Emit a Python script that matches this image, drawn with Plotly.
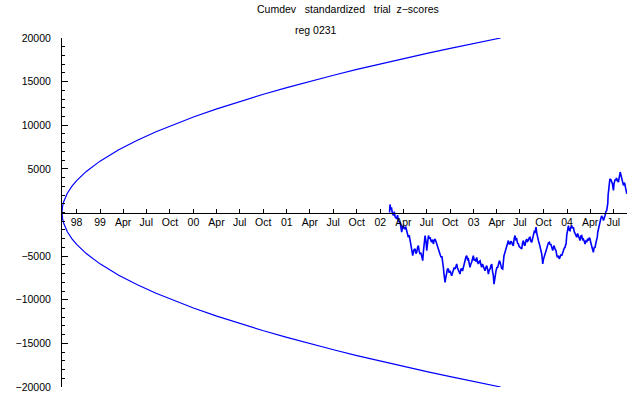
import plotly.graph_objects as go

# Envelope, decimal years
env_years = [1998.593, 1998.595, 1998.600, 1998.610, 1998.625, 1998.650, 1998.700, 1998.750,
             1998.850, 1999.000, 1999.200, 1999.400, 1999.600, 1999.800, 2000.000, 2000.250,
             2000.500, 2000.750, 2001.000, 2001.250, 2001.500, 2001.750, 2002.000, 2002.250,
             2002.500, 2002.750, 2003.000, 2003.290]
env_upper = [0, 413, 772, 1203, 1651, 2203, 3018, 3657, 4678, 5887, 7190, 8290, 9261, 10139,
             10946, 11880, 12744, 13554, 14318, 15042, 15734, 16397, 17034, 17648, 18241,
             18815, 19373, 20000]
env_lower = [-v for v in env_upper]

# Cumulative deviation
cum_years = [2002.100, 2002.105, 2002.112, 2002.120, 2002.130, 2002.141, 2002.150, 2002.160, 2002.176, 2002.185,
             2002.195, 2002.212, 2002.222, 2002.230, 2002.240, 2002.248, 2002.260, 2002.272, 2002.283, 2002.292,
             2002.301, 2002.310, 2002.319, 2002.328, 2002.337, 2002.348, 2002.360, 2002.373, 2002.382, 2002.391,
             2002.400, 2002.408, 2002.417, 2002.426, 2002.435, 2002.444, 2002.455, 2002.462, 2002.469, 2002.475,
             2002.480, 2002.490, 2002.498, 2002.507, 2002.516, 2002.525, 2002.533, 2002.542, 2002.551, 2002.560,
             2002.569, 2002.578, 2002.587, 2002.596, 2002.605, 2002.614, 2002.623, 2002.632, 2002.640, 2002.651,
             2002.660, 2002.669, 2002.676, 2002.683, 2002.690, 2002.694, 2002.703, 2002.712, 2002.720, 2002.729,
             2002.738, 2002.747, 2002.756, 2002.765, 2002.774, 2002.783, 2002.792, 2002.801, 2002.810, 2002.819,
             2002.828, 2002.837, 2002.846, 2002.854, 2002.863, 2002.872, 2002.881, 2002.890, 2002.899, 2002.908,
             2002.917, 2002.926, 2002.935, 2002.944, 2002.953, 2002.961, 2002.970, 2002.979, 2002.988, 2002.997,
             2003.006, 2003.015, 2003.024, 2003.033, 2003.042, 2003.051, 2003.060, 2003.069, 2003.078, 2003.086,
             2003.095, 2003.104, 2003.113, 2003.122, 2003.131, 2003.140, 2003.149, 2003.158, 2003.167, 2003.176,
             2003.185, 2003.194, 2003.203, 2003.211, 2003.218, 2003.229, 2003.240, 2003.249, 2003.258, 2003.267,
             2003.276, 2003.283, 2003.290, 2003.300, 2003.311, 2003.318, 2003.325, 2003.336, 2003.345, 2003.354,
             2003.363, 2003.372, 2003.381, 2003.390, 2003.399, 2003.408, 2003.417, 2003.425, 2003.434, 2003.443,
             2003.452, 2003.461, 2003.470, 2003.479, 2003.488, 2003.497, 2003.506, 2003.515, 2003.524, 2003.533,
             2003.542, 2003.550, 2003.559, 2003.568, 2003.577, 2003.586, 2003.595, 2003.604, 2003.613, 2003.622,
             2003.631, 2003.640, 2003.649, 2003.657, 2003.663, 2003.668, 2003.675, 2003.683, 2003.693, 2003.704,
             2003.711, 2003.719, 2003.724, 2003.729, 2003.735, 2003.740, 2003.747, 2003.754, 2003.765, 2003.776,
             2003.783, 2003.790, 2003.800, 2003.811, 2003.819, 2003.826, 2003.836, 2003.847, 2003.854, 2003.861,
             2003.872, 2003.882, 2003.890, 2003.897, 2003.907, 2003.916, 2003.925, 2003.934, 2003.943, 2003.952,
             2003.961, 2003.970, 2003.979, 2003.985, 2003.990, 2003.997, 2004.004, 2004.010, 2004.015, 2004.023,
             2004.032, 2004.041, 2004.050, 2004.059, 2004.068, 2004.077, 2004.086, 2004.095, 2004.104, 2004.113,
             2004.122, 2004.131, 2004.139, 2004.148, 2004.157, 2004.166, 2004.175, 2004.184, 2004.193, 2004.202,
             2004.211, 2004.220, 2004.229, 2004.238, 2004.246, 2004.255, 2004.264, 2004.273, 2004.282, 2004.291,
             2004.300, 2004.309, 2004.318, 2004.324, 2004.329, 2004.338, 2004.347, 2004.354, 2004.361, 2004.370,
             2004.379, 2004.385, 2004.390, 2004.399, 2004.407, 2004.416, 2004.425, 2004.431, 2004.436, 2004.440,
             2004.443, 2004.448, 2004.454, 2004.458, 2004.461, 2004.466, 2004.472, 2004.479, 2004.486, 2004.491,
             2004.497, 2004.503, 2004.508, 2004.515, 2004.522, 2004.528, 2004.533, 2004.541, 2004.551, 2004.556,
             2004.562, 2004.566, 2004.569, 2004.575, 2004.580, 2004.587, 2004.594, 2004.600, 2004.604, 2004.612,
             2004.619, 2004.625, 2004.630, 2004.635, 2004.640]
cum_values = [0, 920, 300, 600, -100, -345, 100, -500, -728, -300,
              -1000, -1112, -1700, -2262, -1500, -1687, -1900, -1600, -2070, -2500,
              -2837, -2600, -3220, -3600, -4370, -4945, -4300, -4178, -4700, -4562,
              -4000, -3795, -4400, -4753, -4600, -5137, -5520, -4500, -3987, -3400,
              -2645, -3300, -4370, -3500, -2645, -3000, -2837, -3200, -3412, -3100,
              -3603, -3200, -3028, -3300, -3603, -3900, -3987, -4500, -4753, -5137,
              -5000, -5520, -6300, -7053, -7800, -8012, -7400, -7053, -6478, -6478,
              -6900, -6670, -7000, -7245, -6900, -6670, -6300, -6478, -6000, -5903,
              -6400, -6670, -7000, -7053, -6500, -6478, -6700, -6287, -5700, -5328,
              -5100, -4945, -5400, -5328, -5900, -6287, -5900, -5712, -5300, -4945,
              -5500, -5328, -5600, -5137, -5700, -5903, -5600, -5520, -6000, -6287,
              -5900, -6095, -6400, -6670, -6300, -6095, -6500, -7053, -6600, -6478,
              -6100, -5903, -6800, -7245, -8203, -7100, -6670, -6300, -6287, -5900,
              -5520, -5700, -6095, -6400, -6478, -5600, -4945, -4562, -4200, -3987,
              -3500, -3220, -3600, -3603, -3300, -3412, -3700, -3795, -3000, -2645,
              -3100, -3028, -3500, -3603, -3900, -3987, -4178, -4178, -3500, -3220,
              -3700, -3795, -3300, -3028, -3300, -3220, -2900, -2837, -3300, -3412,
              -3000, -2453, -2200, -2262, -1700, -1687, -2300, -3028, -3200, -3603,
              -3900, -4178, -4600, -4753, -5300, -5903, -5400, -5137, -4600, -4370,
              -4000, -3795, -3500, -3412, -3700, -3603, -4100, -4370, -4000, -3795,
              -4200, -4370, -4900, -5137, -4945, -5300, -5137, -4800, -4945, -4500,
              -4370, -4100, -3987, -3700, -3603, -2600, -2262, -1700, -1495, -2000,
              -2070, -1700, -1495, -1800, -1687, -2200, -2453, -2600, -2837, -2400,
              -2645, -3000, -3220, -2700, -2645, -3100, -3028, -3300, -3603, -3200,
              -3412, -3000, -3220, -2900, -3028, -3500, -3795, -4200, -4562, -4000,
              -3987, -3500, -3220, -2800, -2262, -1800, -1112, -800, -728, -400,
              -537, -700, -920, -400, -345, 100, 230, 700, 997, 2000,
              2530, 3000, 3297, 3800, 3872, 3600, 3680, 3500, 3297, 2900,
              2530, 3300, 3488, 3800, 3680, 3900, 3872, 3600, 3488, 3900,
              4063, 4400, 4638, 4400, 4255, 3900, 3680, 3300, 3105, 3400,
              3297, 2900, 2722, 2400, 2147]

# Axis ticks
x_tick_vals = [1998.748, 1999.0, 1999.247, 1999.496, 1999.748,
               2000.0, 2000.247, 2000.496, 2000.748,
               2001.0, 2001.247, 2001.496, 2001.748,
               2002.0, 2002.247, 2002.496, 2002.748,
               2003.0, 2003.247, 2003.496, 2003.748,
               2004.0, 2004.247, 2004.496]
x_tick_text = ["98", "99", "Apr", "Jul", "Oct",
               "00", "Apr", "Jul", "Oct",
               "01", "Apr", "Jul", "Oct",
               "02", "Apr", "Jul", "Oct",
               "03", "Apr", "Jul", "Oct",
               "04", "Apr", "Jul"]
y_tick_vals = [20000, 15000, 10000, 5000, -5000, -10000, -15000, -20000]
y_tick_text = ["20000", "15000", "10000", "5000", "\u22125000", "\u221210000", "\u221215000", "\u221220000"]
y_minor_vals = list(range(-20000, 20001, 1000))

title_line1 = "Cumdev\u00a0\u00a0\u00a0standardized\u00a0\u00a0\u00a0trial\u00a0\u00a0z\u2212scores"
title_line2 = "reg 0231"

BLUE = "#0000FF"
FONT = "Liberation Sans, Arial, sans-serif"

L, R, T, B = 62, 13, 38, 8
W, H = 640, 395
pw, ph = W - L - R, H - T - B

fig = go.Figure()
fig.add_trace(go.Scatter(x=env_years, y=env_upper, mode="lines",
                         line=dict(color=BLUE, width=1.2), hoverinfo="skip"))
fig.add_trace(go.Scatter(x=env_years, y=env_lower, mode="lines",
                         line=dict(color=BLUE, width=1.2), hoverinfo="skip"))
fig.add_trace(go.Scatter(x=cum_years, y=cum_values, mode="lines",
                         line=dict(color=BLUE, width=1.6), hoverinfo="skip"))

fig.update_layout(
    width=W, height=H,
    margin=dict(l=L, r=R, t=T, b=B, autoexpand=False),
    paper_bgcolor="white", plot_bgcolor="white",
    showlegend=False,
    font=dict(family=FONT, size=10.5, color="black"),
    xaxis=dict(range=[1998.593, 2004.642], anchor="free", position=0.5,
               automargin=False,
               showline=True, linecolor="black", linewidth=1,
               showgrid=False, zeroline=False,
               tickmode="array", tickvals=x_tick_vals, ticktext=x_tick_text,
               ticks="inside", ticklen=4, tickcolor="black", tickwidth=1,
               tickfont=dict(family=FONT, size=10.5, color="black")),
    yaxis=dict(range=[-20000, 20000], automargin=False,
               showline=True, linecolor="black", linewidth=1,
               showgrid=False, zeroline=False,
               tickmode="array", tickvals=y_tick_vals, ticktext=y_tick_text,
               ticks="inside", ticklen=6, tickcolor="black", tickwidth=1,
               tickfont=dict(family=FONT, size=10.5, color="black"),
               ticklabelstandoff=8,
               minor=dict(tickmode="array", tickvals=y_minor_vals, ticks="inside",
                          ticklen=3, tickcolor="black", tickwidth=1, showgrid=False)),
    annotations=[
        dict(text=title_line1, xref="paper", yref="paper",
             x=(348 - L) / pw, y=(H - B - 9) / ph, xanchor="center", yanchor="middle",
             showarrow=False, font=dict(family=FONT, size=10.5, color="black")),
        dict(text=title_line2, xref="paper", yref="paper",
             x=(316 - L) / pw, y=(H - B - 30) / ph, xanchor="center", yanchor="middle",
             showarrow=False, font=dict(family=FONT, size=10.5, color="black")),
    ],
)

fig.write_html("out.html", config={"displayModeBar": False},
               post_script="document.body.style.margin='0px';document.body.style.overflow='hidden';")
